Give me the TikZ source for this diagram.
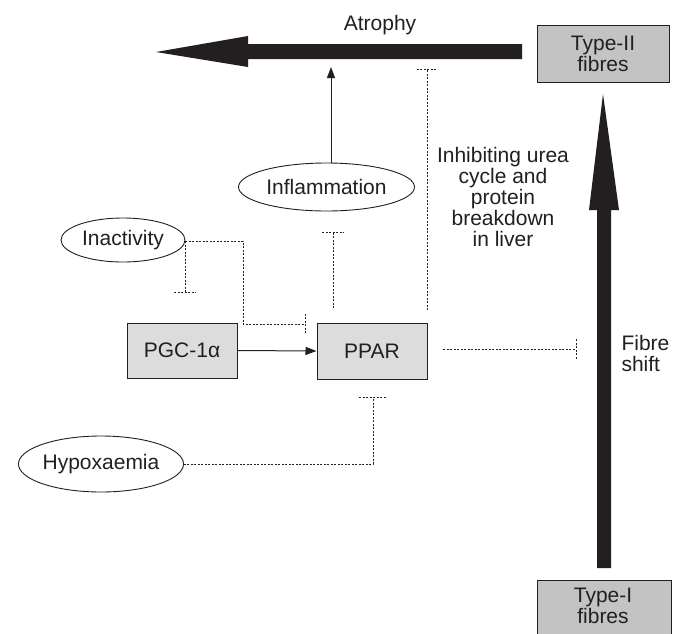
\documentclass[tikz,border=0pt]{standalone}
\usepackage{fontspec}
\setmainfont{Liberation Sans}
\usetikzlibrary{shapes.geometric,arrows.meta,calc}
\definecolor{boxlight}{HTML}{DCDCDC}
\definecolor{boxdark}{HTML}{C3C3C3}
\definecolor{ink}{HTML}{231F20}
\begin{document}
\begin{tikzpicture}[x=1pt,y=-1pt,
  every node/.style={font=\fontsize{21}{21}\selectfont, text=ink},
  graybox/.style={draw=ink, line width=1pt, fill=boxlight, inner sep=0pt},
  fibrebox/.style={draw=ink, line width=1pt, fill=boxdark, inner sep=0pt, align=center},
  oval/.style={draw=ink, line width=0.9pt, ellipse, inner sep=0pt},
  dots/.style={draw=ink, line width=1pt, dash pattern=on 2pt off 1.5pt},
  solidarrow/.style={draw=ink, line width=1pt, -{Triangle[length=11pt,width=8pt]}},
  bigarrow/.style={fill=ink, draw=none}
]
\useasboundingbox (0,0) rectangle (683,633);
\fill[white] (0,0) rectangle (683,633);

% big arrows
\fill[bigarrow] (156,52) -- (248,36) -- (248,44) -- (522,44) -- (522,59) -- (248,59) -- (248,67) -- cycle;
\fill[bigarrow] (603,94) -- (619,210) -- (611,210) -- (611,568) -- (597,568) -- (597,210) -- (589,210) -- cycle;
\coordinate (atrophybottom) at (331,67);

% boxes
\node[fibrebox, minimum width=132pt, minimum height=57pt] (type2) at (603,53.5) {Type-II\\fibres};
\begin{scope}
\clip (0,0) rectangle (683,633);
\draw[draw=ink, line width=1pt, fill=boxdark] (537,660) -- (537,580) -- (671,580) -- (671,660);
\node[align=center] (type1) at (603,606) {Type-I\\fibres};
\end{scope}
\node[graybox, minimum width=110pt, minimum height=55pt] (pgc) at (182,350.5) {PGC-1α};
\node[graybox, minimum width=110pt, minimum height=56pt] (ppar) at (372,351) {PPAR};

% ellipses
\node[oval, minimum width=176pt, minimum height=48pt] (infl) at (326.5,187) {Inflammation};
\node[oval, minimum width=124pt, minimum height=44pt] (inact) at (123,240) {Inactivity};
\node[oval, minimum width=162pt, minimum height=56pt] (hypo) at (101,464) {Hypoxaemia};

% labels
\node (atrophy) at (380,25) {Atrophy};
\node[align=center] (liver) at (503,197) {Inhibiting urea\\cycle and\\protein\\breakdown\\in liver};
\node[align=left, anchor=west] (shift) at (618,353) {Fibre\\shift};

% solid arrows
\draw[solidarrow] (pgc.east) -- (ppar.west);
\draw[solidarrow] ([xshift=4.5pt]infl.north) -- (atrophybottom);

% inhibitor connectors
% PPAR -> atrophy
\coordinate (a1) at (427,310);
\coordinate (a2) at (427,69);
\draw[dots] (a1) -- (a2);
\draw[dots] ($(a2)+(-10.5,0)$) -- ($(a2)+(10.5,0)$);
% PPAR -> inflammation
\coordinate (b1) at (333,308);
\coordinate (b2) at (333,232);
\draw[dots] (b1) -- (b2);
\draw[dots] ($(b2)+(-11,0)$) -- ($(b2)+(11,0)$);
% inactivity down
\coordinate (c0) at (185,241);
\coordinate (c1) at (185,292);
\draw[dots] (c0) -- (c1);
\draw[dots] ($(c1)+(-11,0)$) -- ($(c1)+(11,0)$);
% inactivity -> PPAR
\coordinate (d1) at (305,324);
\draw[dots] (c0) -- (243,241) -- (243,324) -- (d1);
\draw[dots] ($(d1)+(0,-10.5)$) -- ($(d1)+(0,9.5)$);
% PPAR -> fibre shift
\coordinate (e0) at (443,349);
\coordinate (e1) at (576,349);
\draw[dots] (e0) -- (e1);
\draw[dots] ($(e1)+(0,-10)$) -- ($(e1)+(0,9.5)$);
% hypoxaemia -> PPAR
\coordinate (f1) at (373,397);
\draw[dots] (hypo.east) -- (hypo.east -| f1) -- (f1);
\draw[dots] ($(f1)+(-14,0)$) -- ($(f1)+(14,0)$);
\end{tikzpicture}
\end{document}
